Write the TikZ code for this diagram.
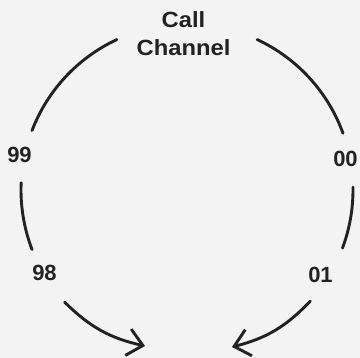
\documentclass[tikz,border=0pt]{standalone}
\usepackage{fontspec}
\setmainfont{Liberation Sans}
\usetikzlibrary{arrows.meta}
\definecolor{ink}{HTML}{222222}
\definecolor{paper}{HTML}{F3F3F3}
\tikzset{
  lbl/.style={font=\fontsize{22}{28}\selectfont\bfseries, text=ink, inner sep=0pt},
  ring/.style={draw=ink, line width=2.9pt, line cap=round},
  arr/.style={ring, -{Straight Barb[length=15pt,width=27pt,line width=2.9pt]}}
}
\begin{document}
\begin{tikzpicture}[x=1pt,y=1pt]
\fill[paper] (0,0) rectangle (360,358);
\useasboundingbox (0,0) rectangle (360,358);
\coordinate (O) at (187,168);
% labels
\node[lbl, align=center] (call) at (183.5,324.5) {\scalebox{1.08}[1]{Call}\\\scalebox{1.08}[1]{Channel}};
\node[lbl] (n99) at (19.5,203.5) {99};
\node[lbl] (n00) at (345.5,199) {00};
\node[lbl] (n98) at (44.5,85) {98};
\node[lbl] (n01) at (320.5,83) {01};
% arc end points
\coordinate (tl) at ([shift={(115:166)}]O);
\coordinate (ml) at ([shift={(177.5:166)}]O);
\coordinate (bl) at ([shift={(222.5:166)}]O);
\coordinate (tipl) at (145,12);
\coordinate (tr) at ([shift={(65:166)}]O);
\coordinate (mr) at ([shift={(1:166)}]O);
\coordinate (br) at ([shift={(-42:166)}]O);
\coordinate (tipr) at (232,11);
% arcs
\draw[ring] (tl) arc[start angle=115, end angle=159, radius=166];
\draw[ring] (ml) arc[start angle=177.5, end angle=201, radius=166];
\draw[ring] (tr) arc[start angle=65, end angle=20, radius=166];
\draw[ring] (mr) arc[start angle=1, end angle=-20.5, radius=166];
\draw[arr] (bl) to[bend right=16] (tipl);
\draw[arr] (br) to[bend left=16] (tipr);
\end{tikzpicture}
\end{document}
